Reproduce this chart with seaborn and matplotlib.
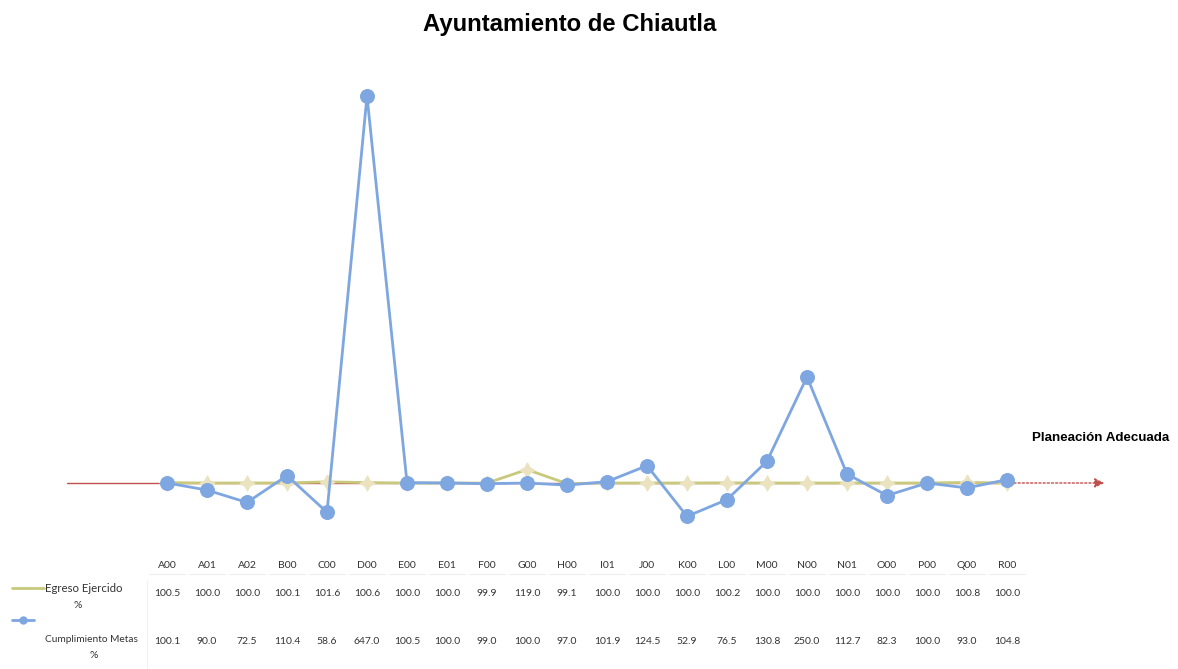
import pandas as pd
import numpy as np
import seaborn as sns
import matplotlib.pyplot as plt
import matplotlib.transforms as mtransforms
from matplotlib.lines import Line2D

categories = ["A00", "A01", "A02", "B00", "C00", "D00", "E00", "E01", "F00", "G00", "H00", "I01",
              "J00", "K00", "L00", "M00", "N00", "N01", "O00", "P00", "Q00", "R00"]
egreso = [100.5, 100.0, 100.0, 100.1, 101.6, 100.6, 100.0, 100.0, 99.9, 119.0, 99.1, 100.0,
          100.0, 100.0, 100.2, 100.0, 100.0, 100.0, 100.0, 100.0, 100.8, 100.0]
metas = [100.1, 90.0, 72.5, 110.4, 58.6, 647.0, 100.5, 100.0, 99.0, 100.0, 97.0, 101.9,
         124.5, 52.9, 76.5, 130.8, 250.0, 112.7, 82.3, 100.0, 93.0, 104.8]
planeacion = 100.0

df = pd.DataFrame({"idx": np.arange(len(categories)), "cat": categories,
                   "Egreso": egreso, "Metas": metas})

sns.set_style("white")
plt.rcParams['font.family'] = ['Liberation Sans', 'DejaVu Sans']

fig = plt.figure(figsize=(11.78, 6.69), dpi=100)
ax = fig.add_axes([0, 1 - 545 / 669, 1, 485 / 669])

step = 840 / 21
x0 = 167 / step
ax.set_xlim(-x0, (1178 - 167) / step)
ax.set_ylim(100 - (545 - 483) / 0.7075, 100 + (483 - 60) / 0.7075)

# reference line (Planeacion Adecuada)
ax.plot([-2.5, 21], [planeacion, planeacion], color="#c0504d", lw=1, zorder=1)
ax.annotate("", xy=(23.5, planeacion), xytext=(21, planeacion),
            arrowprops=dict(arrowstyle="-|>", color="#c0504d", lw=1, linestyle=(0, (1.5, 1.5)),
                            mutation_scale=14))

sns.lineplot(data=df, x="idx", y="Egreso", ax=ax, color="#c8c97c", lw=2, zorder=2,
             marker=(4, 1, 0), markersize=11, markerfacecolor="#ebe3bf", markeredgecolor="#ebe3bf")
sns.lineplot(data=df, x="idx", y="Metas", ax=ax, color="#7ea6e0", lw=2, zorder=3,
             marker="o", markersize=10, markerfacecolor="#7ea6e0", markeredgecolor="#7ea6e0")

ax.text((1032 - 167) / step, planeacion + 64, "Planeación Adecuada", fontsize=9.6, fontweight="bold",
        color="black", va="center")

ax.set_axis_off()

fig.text(570 / 1178, 1 - 24 / 669, "Ayuntamiento de Chiautla", ha="center", va="center", fontsize=17.2,
         fontweight="bold", color="black")

# data table below the chart
tr = mtransforms.blended_transform_factory(ax.transData, fig.transFigure)
tfont = ['Lato', 'DejaVu Sans']
yh, y1, y2 = 1 - 565 / 669, 1 - 594 / 669, 1 - 641 / 669
for i, c in enumerate(categories):
    ax.text(i, yh, c, transform=tr, ha="center", va="center", fontsize=7.5, family=tfont, color="#333333")
    ax.text(i, y1, f"{egreso[i]:.1f}", transform=tr, ha="center", va="center", fontsize=7.5,
            family=tfont, color="#333333")
    ax.text(i, y2, f"{metas[i]:.1f}", transform=tr, ha="center", va="center", fontsize=7.5,
            family=tfont, color="#333333")
    fig.add_artist(Line2D([(167 + (i - 0.45) * step) / 1178, (167 + (i + 0.45) * step) / 1178],
                          [1 - 574 / 669] * 2, color="#eeeeee", lw=0.8))

fig.text(45 / 1178, 1 - 588 / 669, "Egreso Ejercido", fontsize=8.2, family=tfont, va="center", color="#333333")
fig.text(78 / 1178, 1 - 606 / 669, "%", fontsize=7.5, family=tfont, ha="center", va="center", color="#333333")
fig.text(45 / 1178, 1 - 640 / 669, "Cumplimiento Metas", fontsize=7.3, family=tfont, va="center", color="#333333")
fig.text(94 / 1178, 1 - 656 / 669, "%", fontsize=7.5, family=tfont, ha="center", va="center", color="#333333")

fig.add_artist(Line2D([12 / 1178, 44 / 1178], [1 - 588 / 669] * 2, color="#c8c97c", lw=2))
fig.add_artist(Line2D([12 / 1178, 34 / 1178], [1 - 620 / 669] * 2, color="#7ea6e0", lw=2))
fig.add_artist(Line2D([23 / 1178], [1 - 620 / 669], color="#7ea6e0", marker="o", markersize=5))
fig.add_artist(Line2D([147 / 1178, 147 / 1178], [1 - 580 / 669, 0], color="#f2f2f2", lw=0.8))

fig.savefig("out.png", dpi=100)
